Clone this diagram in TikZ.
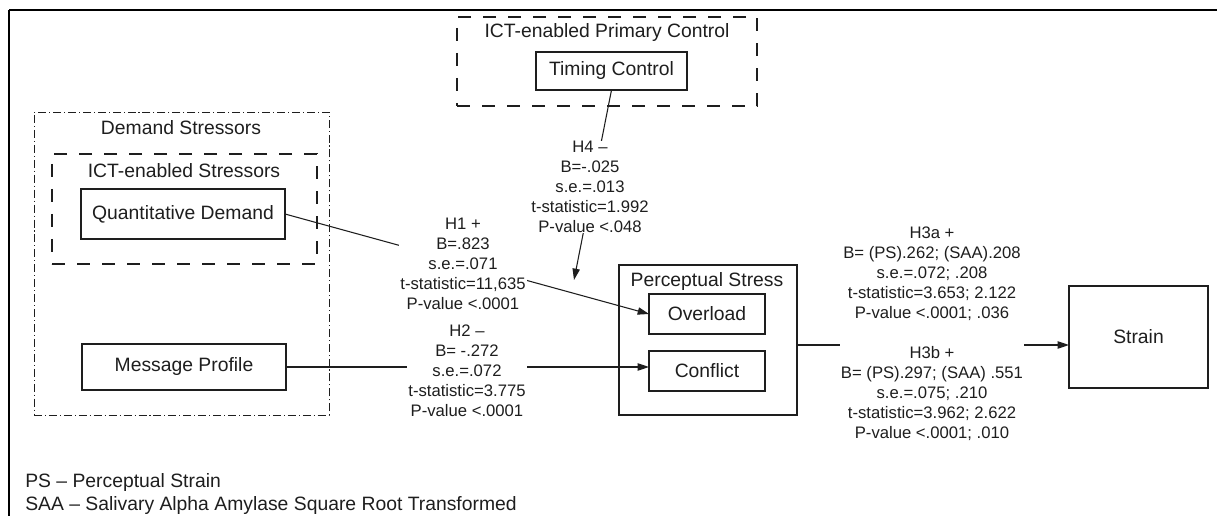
\documentclass[tikz,border=0pt]{standalone}
\usepackage{fontspec}
\setmainfont{Liberation Sans}
\usetikzlibrary{arrows.meta}

\definecolor{ink}{HTML}{1E1E1E}

\tikzset{
  box/.style={draw=ink, line width=0.8pt, inner sep=0pt, outer sep=0pt,
              font=\fontsize{14.5}{17}\selectfont, text=ink},
  dashedgroup/.style={draw=ink, line width=0.9pt, inner sep=0pt, outer sep=0pt,
              dash pattern=on 9.75pt off 9pt},
  dotgroup/.style={draw=ink, line width=0.7pt, inner sep=0pt, outer sep=0pt,
              dash pattern=on 6pt off 2.2pt on 0.8pt off 2.2pt},
  title/.style={inner sep=0pt, font=\fontsize{14.5}{17}\selectfont, text=ink},
  stat/.style={fill=white, inner xsep=1pt, inner ysep=0pt, align=center,
              font=\fontsize{12.5}{15}\selectfont, text=ink},
  path/.style={draw=ink, line width=0.8pt,
              -{Triangle[length=8.5pt,width=5.5pt]}},
  frameline/.style={draw=black, line width=2pt},
}

\begin{document}
\begin{tikzpicture}[x=0.75pt, y=-0.75pt]
\useasboundingbox (0,0) rectangle (1217,516);

% outer frame (top and left edges)
\draw[frameline] (9,10) -- (1230,10);
\draw[frameline] (9,10) -- (9,530);

% ICT-enabled primary control
\node[dashedgroup, minimum width=225pt, minimum height=66.75pt] (pcgroup) at (607,61.5) {};
\node[title] (pctitle) at (607,33) {ICT-enabled Primary Control};
\node[box, minimum width=113.25pt, minimum height=28.5pt] (TC) at (611.5,71) {Timing Control};

% demand stressors
\node[dotgroup, minimum width=221.25pt, minimum height=227.25pt] (dsgroup) at (181.5,263.5) {};
\node[title] (dstitle) at (181,128) {Demand Stressors};
\node[dashedgroup, minimum width=198.75pt, minimum height=82.5pt] (ictgroup) at (184.5,209) {};
\node[title] (icttitle) at (184,171) {ICT-enabled Stressors};
\node[box, minimum width=153pt, minimum height=37.5pt] (QD) at (183,214) {Quantitative Demand};
\node[box, minimum width=153pt, minimum height=34.5pt] (MP) at (184,367) {Message Profile};

% perceptual stress
\node[box, minimum width=133.5pt, minimum height=112.5pt] (PS) at (708,340) {};
\node[title] (pstitle) at (707,282) {Perceptual Stress};
\node[box, minimum width=87pt, minimum height=30pt] (Ov) at (707,314) {Overload};
\node[box, minimum width=87pt, minimum height=30pt] (Cf) at (707,371) {Conflict};

% strain
\node[box, minimum width=104.25pt, minimum height=76.5pt] (St) at (1138.5,337) {Strain};

% connectors
\coordinate (h4end) at (574,280);
\draw[path] (QD.east) -- (Ov.west);
\draw[path] (MP.east) -- (MP.east -| Cf.west);
\draw[path] (TC.south) -- (h4end);
\draw[path] ([yshift=-3.75pt]PS.east) -- ([yshift=-3.75pt]PS.east -| St.west);

% path estimates
\node[stat] (h4) at (590,187) {H4 --\\B=-.025\\s.e.=.013\\t-statistic=1.992\\P-value <.048};
\node[stat] (h1) at (463,264) {H1 +\\B=.823\\s.e.=.071\\t-statistic=11,635\\P-value <.0001};
\node[stat] (h2) at (467,371) {H2 --\\B= -.272\\s.e.=.072\\t-statistic=3.775\\P-value <.0001};
\node[stat] (h3) at (932,334) {H3a +\\B= (PS).262; (SAA).208\\s.e.=.072; .208\\t-statistic=3.653; 2.122\\P-value <.0001; .036\\[15pt]H3b +\\B= (PS).297; (SAA) .551\\s.e.=.075; .210\\t-statistic=3.962; 2.622\\P-value <.0001; .010};

% legend
\node[title, anchor=west] (lgps) at (25,483) {PS -- Perceptual Strain};
\node[title, anchor=west] (lgsaa) at (25,506) {SAA -- Salivary Alpha Amylase Square Root Transformed};
\end{tikzpicture}
\end{document}
